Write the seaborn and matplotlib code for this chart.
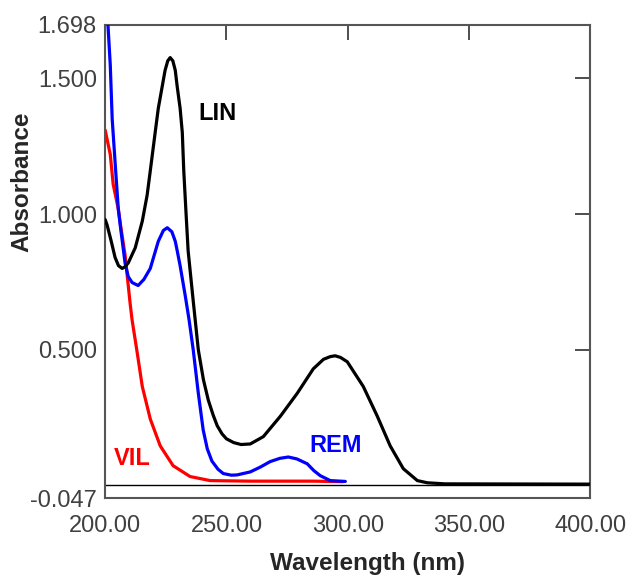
import seaborn as sns
import matplotlib.pyplot as plt

# spectra (wavelength nm, absorbance)
lin_nm = [200, 200.8, 202.5, 204.1, 205.5, 207, 208, 209.5, 212.4, 215.3, 217.3, 218.6, 220.6, 221.9,
          223.5, 224.7, 225.8, 226.8, 227.9, 228.9, 229.7, 230.9, 231.8, 232.4, 233.3, 234.2, 236.3,
          238.4, 240.5, 242.5, 244.5, 246.2, 248.2, 250, 253, 256, 259.8, 265.2, 272.2, 279.2, 285.8,
          290, 292.8, 294.8, 297, 299.8, 306.4, 312.2, 317.5, 322.9, 328.7, 332.8, 340, 400]
lin_abs = [0.98, 0.96, 0.90, 0.84, 0.81, 0.80, 0.805, 0.82, 0.876, 0.974, 1.07, 1.16, 1.30, 1.39,
           1.47, 1.53, 1.565, 1.577, 1.565, 1.53, 1.47, 1.39, 1.30, 1.16, 1.01, 0.865, 0.68,
           0.50, 0.39, 0.315, 0.26, 0.22, 0.19, 0.172, 0.158, 0.151, 0.153, 0.18, 0.255, 0.34, 0.43,
           0.465, 0.475, 0.478, 0.472, 0.456, 0.365, 0.255, 0.146, 0.062, 0.018, 0.01, 0.006, 0.005]

rem_nm = [200, 201.2, 202.1, 202.9, 204.1, 205.4, 206.2, 208.2, 209.5, 211.1, 213.6, 216, 218.6,
          221.9, 224, 225.6, 227.5, 228.9, 229.7, 230.9, 233, 234.6, 236.3, 238.4, 240.4, 242.1, 244,
          246.5, 248.7, 252, 254.4, 259.8, 264, 268, 272, 275.5, 279, 283.3, 286, 288.7, 292.8, 299]
rem_abs = [1.85, 1.69, 1.55, 1.35, 1.19, 1.02, 0.96, 0.82, 0.77, 0.748, 0.737, 0.76, 0.80,
           0.90, 0.94, 0.95, 0.935, 0.90, 0.865, 0.81, 0.70, 0.61, 0.50, 0.34, 0.205, 0.135, 0.09,
           0.06, 0.044, 0.038, 0.039, 0.05, 0.068, 0.088, 0.10, 0.105, 0.098, 0.08, 0.055, 0.036,
           0.018, 0.015]

vil_nm = [200, 202.1, 203.3, 205.4, 206.5, 208.2, 210.3, 211.1, 213.2, 215.3, 218.6, 222.7, 228,
          235, 243.3, 260, 285.8, 298]
vil_abs = [1.31, 1.22, 1.11, 1.02, 0.95, 0.85, 0.67, 0.61, 0.49, 0.365, 0.245, 0.146, 0.073,
           0.033, 0.018, 0.016, 0.016, 0.014]

x_ticks = [200, 250, 300, 350, 400]
y_ticks = [-0.047, 0.5, 1.0, 1.5, 1.698]

sns.set_style('white')
plt.rcParams['font.family'] = ['Liberation Sans', 'DejaVu Sans']

fig = plt.figure(figsize=(6.26, 5.76), dpi=100)
ax = fig.add_axes([0.168, 0.135, 0.775, 0.822])

ax.axhline(0, color='black', lw=1.0, zorder=1)
sns.lineplot(x=vil_nm, y=vil_abs, color='#ff0000', lw=2.3, ax=ax, zorder=2)
sns.lineplot(x=rem_nm, y=rem_abs, color='#0000ff', lw=2.3, ax=ax, zorder=3)
sns.lineplot(x=lin_nm, y=lin_abs, color='black', lw=2.3, ax=ax, zorder=4)

ax.text(246.5, 1.37, 'LIN', color='black', fontsize=17, fontweight='bold', ha='center', va='center')
ax.text(295, 0.146, 'REM', color='#0000ff', fontsize=17, fontweight='bold', ha='center', va='center')
ax.text(211, 0.099, 'VIL', color='#ff0000', fontsize=17, fontweight='bold', ha='center', va='center')

ax.set_xlim(200, 400)
ax.set_ylim(-0.047, 1.698)
ax.set_xticks(x_ticks)
ax.set_xticklabels([f'{v:.2f}' for v in x_ticks])
ax.set_yticks(y_ticks)
ax.set_yticklabels([f'{v:.3f}' for v in y_ticks])
ax.tick_params(direction='in', length=11, width=1.3, color='#404040', labelsize=17,
               labelcolor='#404040', top=True, right=True, labeltop=False, labelright=False)
ax.tick_params(axis='x', pad=12)
ax.tick_params(axis='y', pad=6)
for s in ax.spines.values():
    s.set_color('#555555')
    s.set_linewidth(1.5)

ax.set_xlabel('Wavelength (nm)', fontsize=17.5, fontweight='bold', va='center')
ax.set_ylabel('Absorbance', fontsize=17.5, fontweight='bold', va='center')
ax.xaxis.set_label_coords(0.54, -0.137)
ax.yaxis.set_label_coords(-0.171, 0.668)

fig.savefig('out.png', dpi=100)
